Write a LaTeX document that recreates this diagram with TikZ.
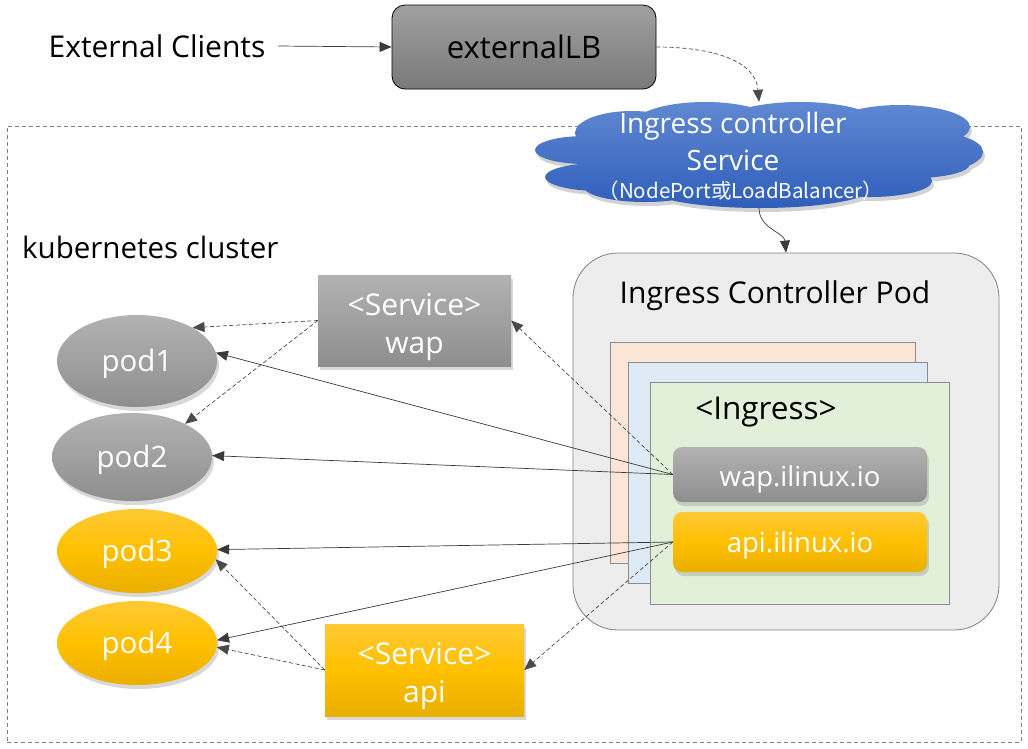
\documentclass[tikz,border=0pt]{standalone}
\usepackage{fontspec}
\setmainfont{Open Sans}
\newfontfamily\cjk{Noto Sans CJK SC}
\usetikzlibrary{shapes.geometric,arrows.meta,shadows}
\definecolor{lineC}{HTML}{3A3A3A}
\definecolor{dashC}{HTML}{4A4A4A}
\definecolor{greyTop}{HTML}{B2B2B2}
\definecolor{greyBot}{HTML}{8E8E8E}
\definecolor{yelTop}{HTML}{FFC935}
\definecolor{yelMid}{HTML}{FFC000}
\definecolor{yelBot}{HTML}{E9AF00}
\definecolor{blueTop}{HTML}{6088D2}
\definecolor{blueBot}{HTML}{2F5EBA}
\definecolor{podBg}{HTML}{EDEDED}
\definecolor{peach}{HTML}{FBE5D6}
\definecolor{lblue}{HTML}{DEEBF7}
\definecolor{lgreen}{HTML}{E2F0D9}
\tikzset{
  arr/.style={-{Triangle[length=12pt,width=10pt]}, draw=lineC, line width=0.7pt},
  darr/.style={-{Triangle[length=12pt,width=10pt]}, draw=dashC, line width=0.7pt, dash pattern=on 4pt off 2.5pt},
  shad/.style={drop shadow={opacity=0.3, shadow xshift=2pt, shadow yshift=-4pt}},
  greyfill/.style={top color=greyTop, bottom color=greyBot},
  yelfill/.style={top color=yelTop, bottom color=yelBot, middle color=yelMid},
  svcbox/.style={rectangle, inner sep=0pt, text=white, font=\fontsize{30}{38}\selectfont, align=center, shad},
  hostbox/.style={rectangle, rounded corners=9pt, inner sep=0pt, minimum width=254pt, text=white, font=\fontsize{27.5}{30}\selectfont, shad},
  podnode/.style={ellipse, inner sep=0pt, minimum width=160pt, text=white, font=\fontsize{29.5}{30}\selectfont, shad},
  stackbox/.style={rectangle, draw=gray!90, line width=0.8pt, inner sep=0pt},
  bigtxt/.style={font=\fontsize{30}{33}\selectfont, inner sep=0pt},
  cloudtxt/.style={text=white, font=\fontsize{28}{30}\selectfont, inner sep=0pt}
}
\begin{document}
\begin{tikzpicture}[x=1pt,y=-1pt]
\useasboundingbox (0,0) rectangle (1028,748);
\fill[white] (0,0) rectangle (1028,748);

% cluster
\node[draw=gray, dash pattern=on 4pt off 3pt, line width=0.7pt, rectangle, minimum width=1014pt, minimum height=616pt, inner sep=0pt] (cluster) at (514,434) {};
\node[bigtxt, font=\fontsize{29.5}{33}\selectfont, anchor=west] (k8s) at (22,247) {kubernetes cluster};

% top
\node[bigtxt] (ext) at (157,46) {External Clients};
\coordinate (extS) at (278,46);
\node[rectangle, rounded corners=13pt, draw=black, line width=0.8pt, top color=greyTop!90!black, bottom color=greyBot!85!black, minimum width=264pt, minimum height=84pt, inner sep=0pt, font=\fontsize{31}{34}\selectfont] (lb) at (524,47) {externalLB};
\draw[arr] (extS) -- (lb.west);

% cloud (drawn as a union of puffs)
\path[top color=blueTop, bottom color=blueBot, drop shadow={opacity=0.35, shadow xshift=2pt, shadow yshift=-4pt}]
  (585,150) ellipse [x radius=50, y radius=14]
  (600,177) ellipse [x radius=55, y radius=14]
  (645,186) ellipse [x radius=62, y radius=16]
  (760,188) ellipse [x radius=112, y radius=20]
  (870,181) ellipse [x radius=62, y radius=16]
  (915,164) ellipse [x radius=55, y radius=14]
  (930,152) ellipse [x radius=53, y radius=20]
  (900,127) ellipse [x radius=70, y radius=22]
  (800,125) ellipse [x radius=80, y radius=23]
  (705,125) ellipse [x radius=72, y radius=23]
  (632,133) ellipse [x radius=57, y radius=22]
  (760,155) ellipse [x radius=175, y radius=42];
\node[ellipse, minimum width=450pt, minimum height=106pt, inner sep=0pt] (cloud) at (759,155) {};
\node[cloudtxt] (cl1) at (733,126) {Ingress controller};
\node[cloudtxt] (cl2) at (733,160) {Service};
\node[text=white, font=\cjk\fontsize{20.5}{22}\selectfont, inner sep=0pt] (cl3) at (741,191) {（NodePort或LoadBalancer）};
\draw[darr] (lb.east) to[out=0,in=95] (cloud.north);

% ingress controller pod
\node[rectangle, rounded corners=45pt, fill=podBg, draw=gray, line width=0.8pt, minimum width=426pt, minimum height=377pt, inner sep=0pt] (icp) at (786,441.5) {};
\node[bigtxt] (icpt) at (775,296) {Ingress Controller Pod};
\draw[arr] (cloud.south) to[out=-90,in=95] (icp.north);

\node[stackbox, fill=peach, minimum width=305pt, minimum height=221pt] (r1) at (762.5,452.5) {};
\node[stackbox, fill=lblue, minimum width=299pt, minimum height=221pt] (r2) at (777.5,472.5) {};
\node[stackbox, fill=lgreen, minimum width=299pt, minimum height=222pt] (r3) at (799.5,493) {};
\node[bigtxt, font=\fontsize{31.5}{33}\selectfont] (ingl) at (766,412) {<Ingress>};

\node[hostbox, greyfill, minimum height=55pt] (wapH) at (800,474.5) {\rule{0pt}{31pt}wap.ilinux.io};
\node[hostbox, yelfill, minimum height=60pt] (apiH) at (800,542) {\rule{0pt}{28pt}api.ilinux.io};

% services
\node[svcbox, greyfill, minimum width=193pt, minimum height=91pt] (svcW) at (414.5,320.5) {\rule{0pt}{35pt}<Service>\\wap};
\node[svcbox, yelfill, minimum width=199pt, minimum height=92pt] (svcA) at (424.5,670) {\rule{0pt}{35pt}<Service>\\api};

% pods
\node[podnode, greyfill, minimum height=92pt] (pod1) at (137,361) {\rule{0pt}{28pt}pod1};
\node[podnode, greyfill, minimum height=88pt] (pod2) at (132,457) {\rule{0pt}{28pt}pod2};
\node[podnode, yelfill, minimum height=84pt] (pod3) at (137,551) {\rule{0pt}{28pt}pod3};
\node[podnode, yelfill, minimum height=84pt] (pod4) at (137,643) {\rule{0pt}{28pt}pod4};

% connectors
\draw[darr] (svcW.west) -- (pod1.31);
\draw[darr] (svcW.west) -- (pod2.32);
\draw[darr] (wapH.west) -- (svcW.east);
\draw[arr] (wapH.west) -- (pod1.6);
\draw[arr] (wapH.west) -- (pod2.1);
\draw[arr] (apiH.west) -- (pod3.1);
\draw[arr] (apiH.west) -- (pod4.2);
\draw[darr] (apiH.west) -- (svcA.east);
\draw[darr] (svcA.west) -- (pod3.-6);
\draw[darr] (svcA.west) -- (pod4.-3);
\end{tikzpicture}
\end{document}
